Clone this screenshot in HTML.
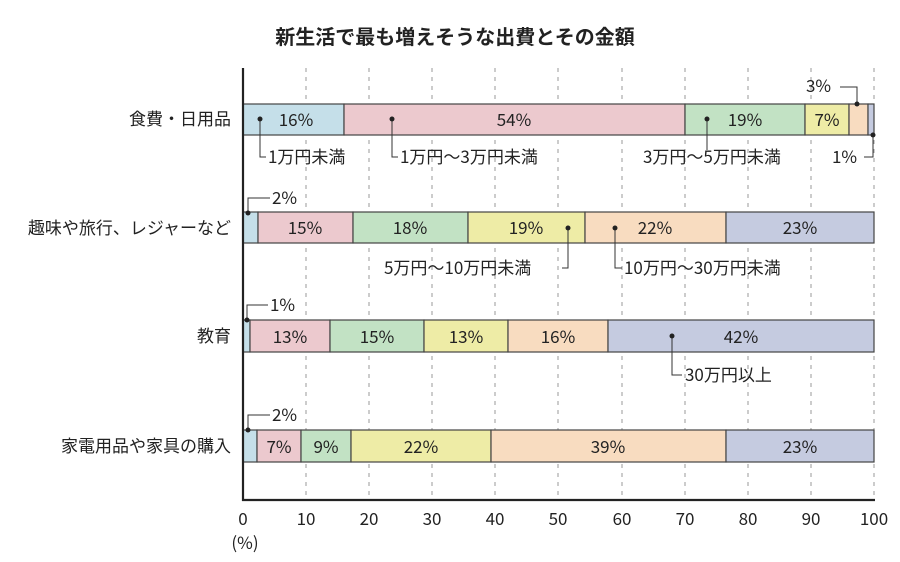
<!DOCTYPE html>
<html><head><meta charset="utf-8"><style>
html,body{margin:0;padding:0;background:#fff;}
svg{display:block;font-family:"Noto Sans CJK JP","Liberation Sans",sans-serif;}
</style></head><body>
<svg width="900" height="562" viewBox="0 0 900 562" xmlns="http://www.w3.org/2000/svg">
<text x="455" y="44" text-anchor="middle" font-size="20" font-weight="bold" fill="#222">新生活で最も増えそうな出費とその金額</text>
<g stroke="#999" stroke-width="1" stroke-dasharray="4,5">
<line x1="306" y1="68" x2="306" y2="500"/><line x1="369" y1="68" x2="369" y2="500"/>
<line x1="432" y1="68" x2="432" y2="500"/><line x1="495" y1="68" x2="495" y2="500"/>
<line x1="558" y1="68" x2="558" y2="500"/><line x1="622" y1="68" x2="622" y2="500"/>
<line x1="685" y1="68" x2="685" y2="500"/><line x1="748" y1="68" x2="748" y2="500"/>
<line x1="811" y1="68" x2="811" y2="500"/><line x1="874" y1="68" x2="874" y2="500"/>
</g>
<g stroke="#444" stroke-width="1.2">
<rect x="243" y="104" width="101" height="31" fill="#c5dfe9"/>
<rect x="344" y="104" width="341" height="31" fill="#ecc9ce"/>
<rect x="685" y="104" width="120" height="31" fill="#c2e2c4"/>
<rect x="805" y="104" width="44" height="31" fill="#eeeca6"/>
<rect x="849" y="104" width="19" height="31" fill="#f8dcc0"/>
<rect x="868" y="104" width="6" height="31" fill="#c5cbe0"/>
<rect x="243" y="212" width="15" height="31" fill="#c5dfe9"/>
<rect x="258" y="212" width="95" height="31" fill="#ecc9ce"/>
<rect x="353" y="212" width="115" height="31" fill="#c2e2c4"/>
<rect x="468" y="212" width="117" height="31" fill="#eeeca6"/>
<rect x="585" y="212" width="141" height="31" fill="#f8dcc0"/>
<rect x="726" y="212" width="148" height="31" fill="#c5cbe0"/>
<rect x="243" y="320" width="7" height="32" fill="#c5dfe9"/>
<rect x="250" y="320" width="80" height="32" fill="#ecc9ce"/>
<rect x="330" y="320" width="94" height="32" fill="#c2e2c4"/>
<rect x="424" y="320" width="84" height="32" fill="#eeeca6"/>
<rect x="508" y="320" width="100" height="32" fill="#f8dcc0"/>
<rect x="608" y="320" width="266" height="32" fill="#c5cbe0"/>
<rect x="243" y="430" width="14" height="32" fill="#c5dfe9"/>
<rect x="257" y="430" width="44" height="32" fill="#ecc9ce"/>
<rect x="301" y="430" width="50" height="32" fill="#c2e2c4"/>
<rect x="351" y="430" width="140" height="32" fill="#eeeca6"/>
<rect x="491" y="430" width="235" height="32" fill="#f8dcc0"/>
<rect x="726" y="430" width="148" height="32" fill="#c5cbe0"/>
</g>
<g stroke="#222" stroke-width="2.2"><line x1="243" y1="68" x2="243" y2="501"/><line x1="242" y1="500" x2="875" y2="500"/></g>
<g stroke="#333" stroke-width="1" fill="none">
<polyline points="260,119 260,157 266,157"/>
<polyline points="392,119 392,157 398,157"/>
<polyline points="707,119 707,150"/>
<polyline points="840,87 857,87 857,104"/>
<polyline points="873,135 873,157 864,157"/>
<polyline points="248,213 248,198 270,198"/>
<polyline points="568,228 568,268 562,268"/>
<polyline points="615,228 615,268 622,268"/>
<polyline points="247,320 247,305 268,305"/>
<polyline points="672,336 672,375 682,375"/>
<polyline points="248,430 248,415 270,415"/>
</g>
<g fill="#222">
<circle cx="260" cy="119" r="2.5"/><circle cx="392" cy="119" r="2.5"/><circle cx="707" cy="119" r="2.5"/>
<circle cx="857" cy="104" r="2.5"/><circle cx="873" cy="135" r="2.5"/>
<circle cx="248" cy="213" r="2.5"/><circle cx="568" cy="228" r="2.5"/><circle cx="615" cy="228" r="2.5"/>
<circle cx="247" cy="320" r="2.5"/><circle cx="672" cy="336" r="2.5"/><circle cx="248" cy="430" r="2.5"/>
</g>
<g font-size="17" fill="#222" text-anchor="middle">
<text x="296" y="126">16%</text><text x="514" y="126">54%</text><text x="745" y="126">19%</text><text x="827" y="126">7%</text>
<text x="305" y="234">15%</text><text x="410" y="234">18%</text><text x="526" y="234">19%</text><text x="655" y="234">22%</text><text x="800" y="234">23%</text>
<text x="290" y="343">13%</text><text x="377" y="343">15%</text><text x="466" y="343">13%</text><text x="558" y="343">16%</text><text x="741" y="343">42%</text>
<text x="279" y="453">7%</text><text x="326" y="453">9%</text><text x="421" y="453">22%</text><text x="608" y="453">39%</text><text x="800" y="453">23%</text>
</g>
<g font-size="17" fill="#222">
<text x="268" y="163">1万円未満</text>
<text x="400" y="163">1万円～3万円未満</text>
<text x="643" y="163">3万円～5万円未満</text>
<text x="806" y="92">3%</text>
<text x="832" y="163">1%</text>
<text x="272" y="204">2%</text>
<text x="384" y="274">5万円～10万円未満</text>
<text x="624" y="274">10万円～30万円未満</text>
<text x="270" y="311">1%</text>
<text x="685" y="381">30万円以上</text>
<text x="272" y="421">2%</text>
</g>
<g font-size="17" fill="#222" text-anchor="end">
<text x="231" y="125">食費・日用品</text>
<text x="231" y="234">趣味や旅行、レジャーなど</text>
<text x="231" y="342">教育</text>
<text x="231" y="452">家電用品や家具の購入</text>
</g>
<g font-size="17" fill="#222" text-anchor="middle">
<text x="243" y="525">0</text><text x="306" y="525">10</text><text x="369" y="525">20</text><text x="432" y="525">30</text><text x="495" y="525">40</text><text x="558" y="525">50</text><text x="622" y="525">60</text><text x="685" y="525">70</text><text x="748" y="525">80</text><text x="811" y="525">90</text><text x="874" y="525">100</text>
<text x="245" y="549">(%)</text>
</g>
</svg>
</body></html>
